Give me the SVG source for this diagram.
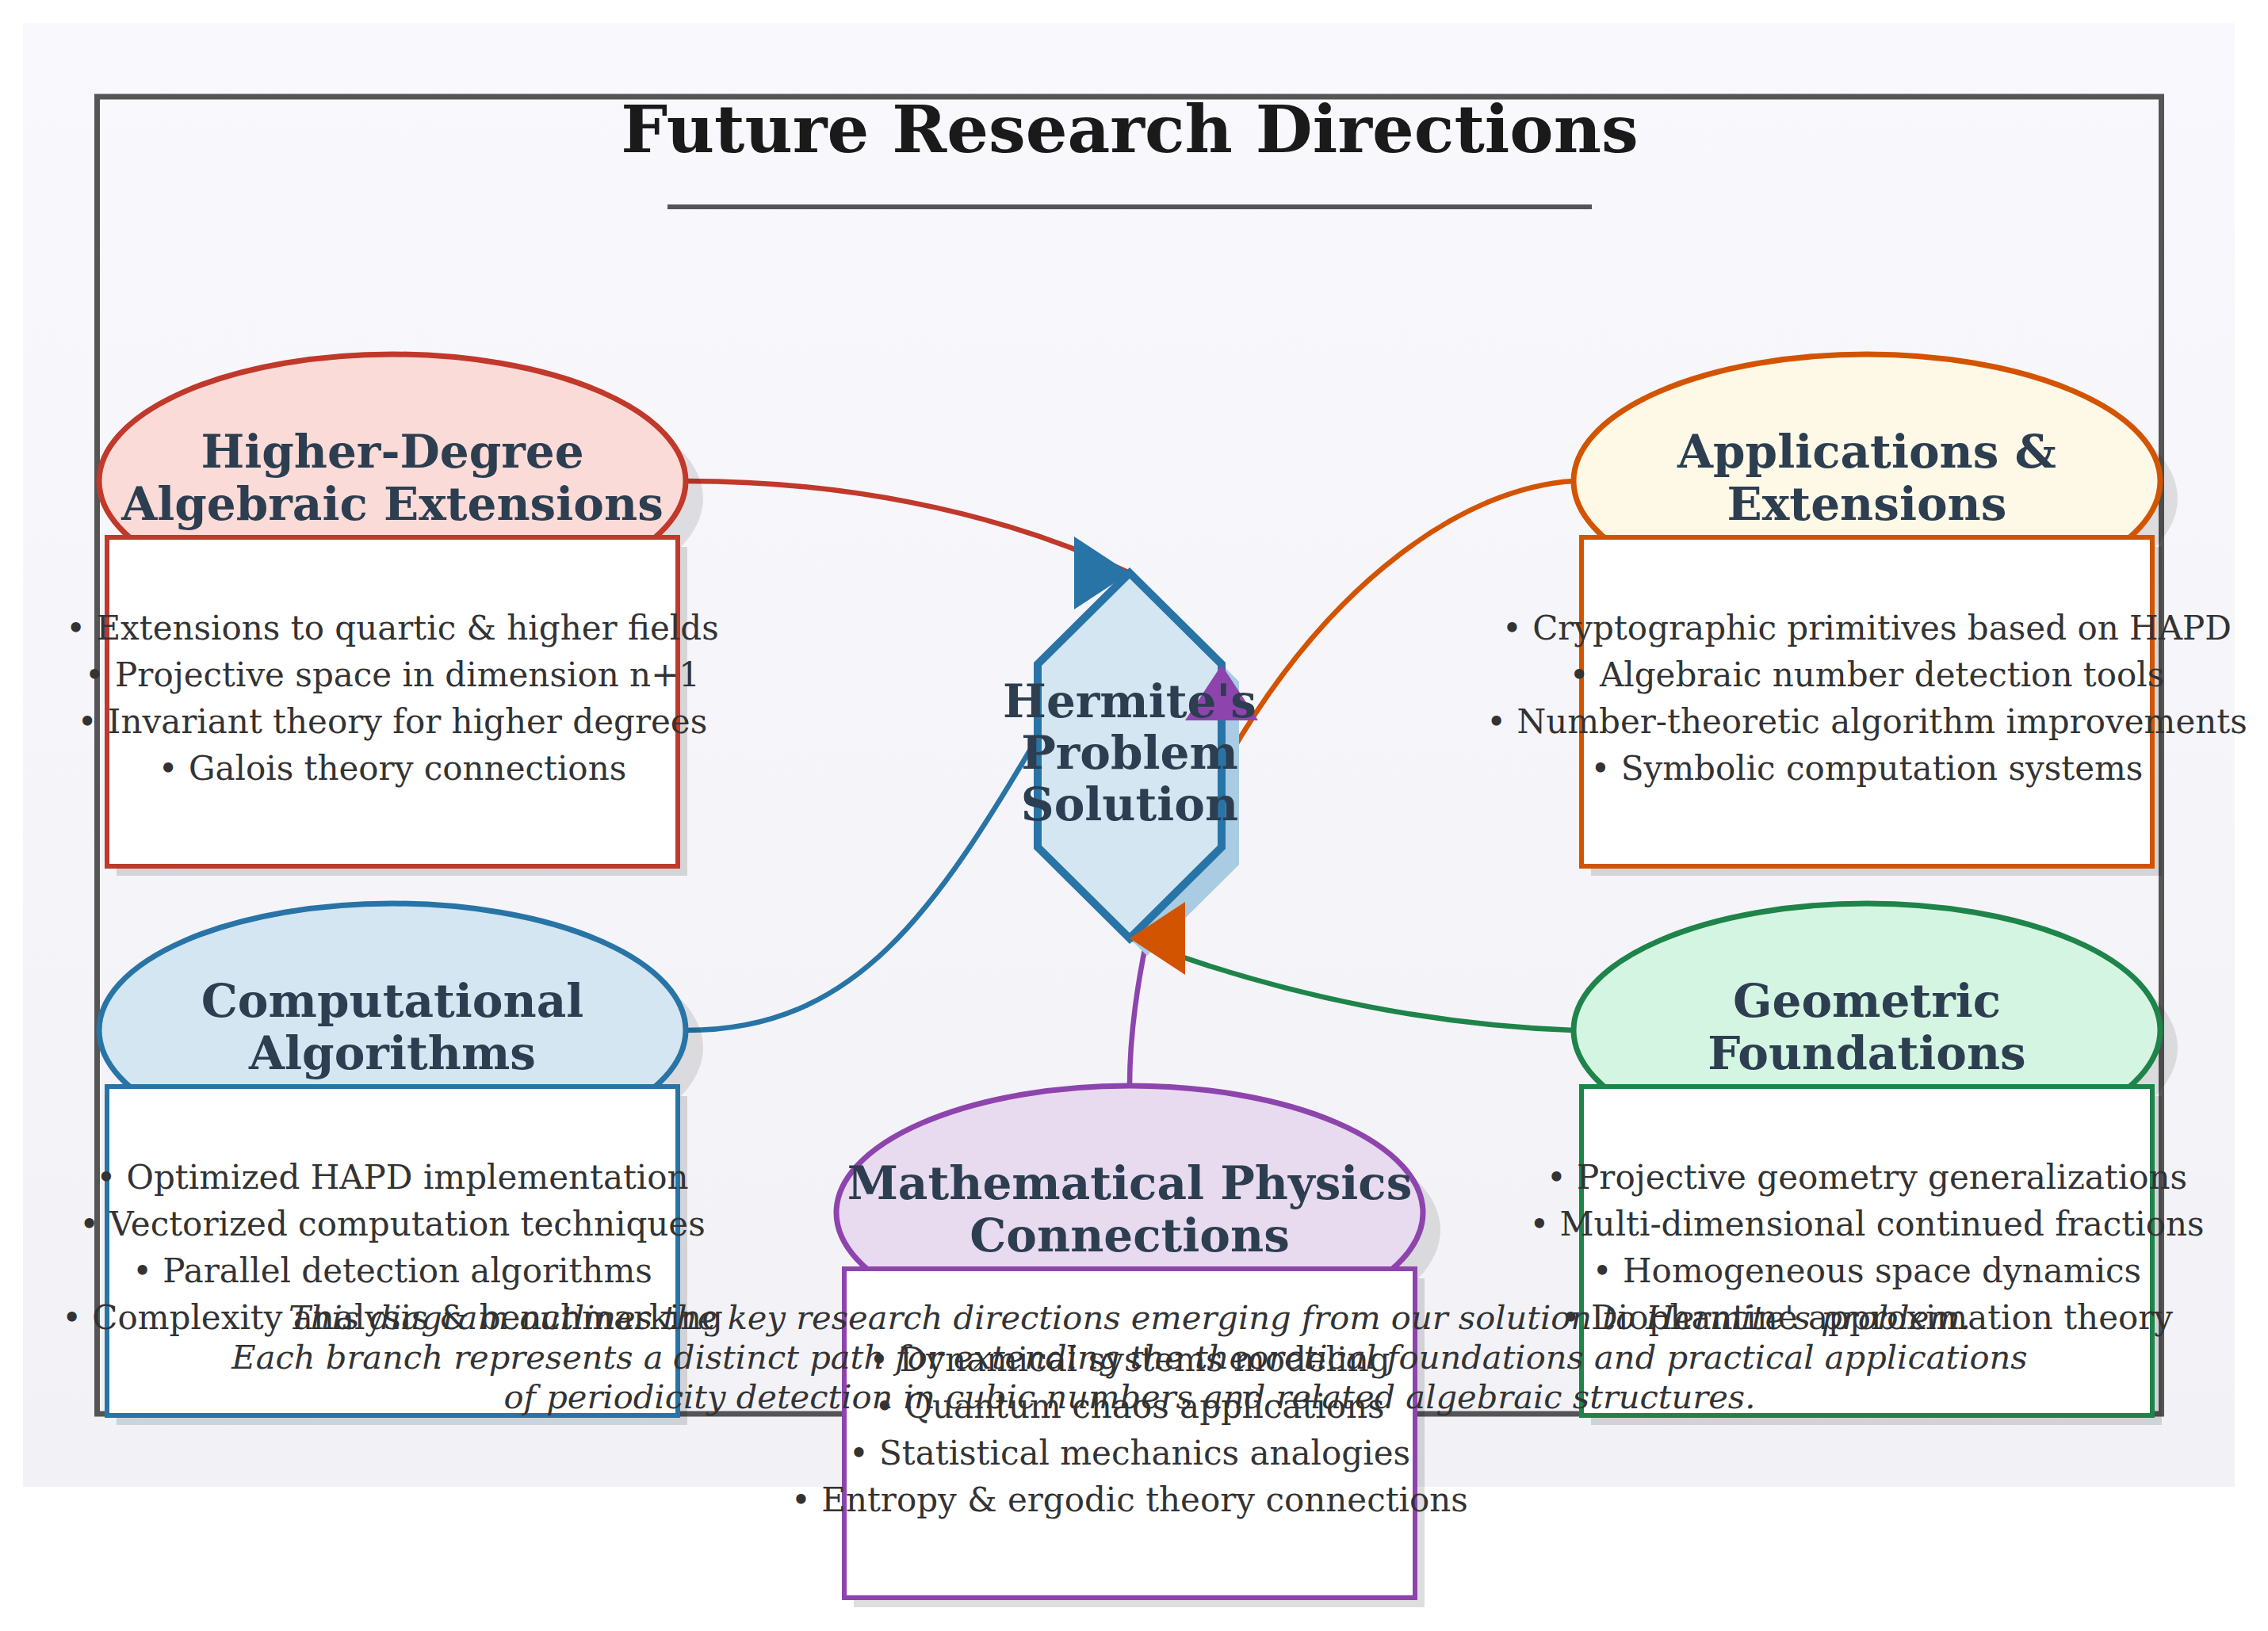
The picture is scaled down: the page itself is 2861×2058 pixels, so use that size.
<svg xmlns="http://www.w3.org/2000/svg" width="2861" height="2058" viewBox="0 0 2861 2058">
<defs>
<linearGradient id="bgGrad" x1="0" y1="0" x2="0" y2="1">
<stop offset="0" stop-color="#f8f8fd"/>
<stop offset="1" stop-color="#f2f2f6"/>
</linearGradient>
<path id="arrowhead" d="M0,0 L-70,-46 L-70,46 Z"/>
</defs>
<style>
.t{font-family:"DejaVu Serif","Liberation Serif",serif}
.title{font-size:83px;font-weight:bold;fill:#1a1a1a;text-anchor:middle}
.nt{font-size:58px;font-weight:bold;fill:#2c3e50;text-anchor:middle}
.bl{font-size:42px;fill:#333;text-anchor:middle}
.cap{font-size:41.6px;font-style:italic;fill:#333;text-anchor:middle}
.conn{fill:none;stroke-width:6.5}
.esh{fill:#000;opacity:.1}
.rsh{fill:#000;opacity:.13}
.ell{stroke-width:7}
.box{fill:#fff;stroke-width:6}
.red .ell{fill:#fadbd8;stroke:#c0392b}.red .box{stroke:#c0392b}
.org .ell{fill:#fef9e7;stroke:#d35400}.org .box{stroke:#d35400}
.blu .ell{fill:#d4e6f1;stroke:#2874a6}.blu .box{stroke:#2874a6}
.grn .ell{fill:#d5f5e3;stroke:#1e8449}.grn .box{stroke:#1e8449}
.pur .ell{fill:#e8daef;stroke:#8e44ad}.pur .box{stroke:#8e44ad}
</style>

<rect x="29" y="29" width="2790" height="1847" fill="url(#bgGrad)"/>

<g id="frame">
<rect x="122.5" y="122" width="2604" height="1662" fill="none" stroke="#555" stroke-width="7"/>
<text class="t title" x="1425" y="192">Future Research Directions</text>
<line x1="842" y1="261" x2="2008" y2="261" stroke="#555" stroke-width="6"/>
</g>

<g id="connectors">
<path class="conn" stroke="#c0392b" d="M866,607 C1050,607 1250,640 1425,723"/>
<path class="conn" stroke="#d35400" d="M1985,607 C1850,615 1680,730 1550,955"/>
<path class="conn" stroke="#2874a6" d="M866,1300 C1080,1300 1180,1150 1315,920"/>
<path class="conn" stroke="#1e8449" d="M1985,1300 Q1706,1290 1425,1184"/>
<path class="conn" stroke="#8e44ad" d="M1425,1370 Q1425,1290 1446,1188"/>
</g>

<g id="node-higher-degree" class="red" transform="translate(495,607)">
<ellipse class="esh" cx="22" cy="22" rx="370" ry="160"/>
<ellipse class="ell" cx="0" cy="0" rx="370" ry="160"/>
<rect class="rsh" x="-348" y="83" width="720" height="415"/>
<rect class="box" x="-360" y="71" width="720" height="415"/>
<text class="t nt" x="0" y="-17">Higher-Degree</text>
<text class="t nt" x="0" y="49">Algebraic Extensions</text>
<text class="t bl" x="0" y="200">• Extensions to quartic &amp; higher fields</text>
<text class="t bl" x="0" y="259">• Projective space in dimension n+1</text>
<text class="t bl" x="0" y="318">• Invariant theory for higher degrees</text>
<text class="t bl" x="0" y="377">• Galois theory connections</text>
</g>

<g id="node-applications" class="org" transform="translate(2355,607)">
<ellipse class="esh" cx="22" cy="22" rx="370" ry="160"/>
<ellipse class="ell" cx="0" cy="0" rx="370" ry="160"/>
<rect class="rsh" x="-348" y="83" width="720" height="415"/>
<rect class="box" x="-360" y="71" width="720" height="415"/>
<text class="t nt" x="0" y="-17">Applications &amp;</text>
<text class="t nt" x="0" y="49">Extensions</text>
<text class="t bl" x="0" y="200">• Cryptographic primitives based on HAPD</text>
<text class="t bl" x="0" y="259">• Algebraic number detection tools</text>
<text class="t bl" x="0" y="318">• Number-theoretic algorithm improvements</text>
<text class="t bl" x="0" y="377">• Symbolic computation systems</text>
</g>

<g id="node-computational" class="blu" transform="translate(495,1300)">
<ellipse class="esh" cx="22" cy="22" rx="370" ry="160"/>
<ellipse class="ell" cx="0" cy="0" rx="370" ry="160"/>
<rect class="rsh" x="-348" y="83" width="720" height="415"/>
<rect class="box" x="-360" y="71" width="720" height="415"/>
<text class="t nt" x="0" y="-17">Computational</text>
<text class="t nt" x="0" y="49">Algorithms</text>
<text class="t bl" x="0" y="200">• Optimized HAPD implementation</text>
<text class="t bl" x="0" y="259">• Vectorized computation techniques</text>
<text class="t bl" x="0" y="318">• Parallel detection algorithms</text>
<text class="t bl" x="0" y="377">• Complexity analysis &amp; benchmarking</text>
</g>

<g id="node-geometric" class="grn" transform="translate(2355,1300)">
<ellipse class="esh" cx="22" cy="22" rx="370" ry="160"/>
<ellipse class="ell" cx="0" cy="0" rx="370" ry="160"/>
<rect class="rsh" x="-348" y="83" width="720" height="415"/>
<rect class="box" x="-360" y="71" width="720" height="415"/>
<text class="t nt" x="0" y="-17">Geometric</text>
<text class="t nt" x="0" y="49">Foundations</text>
<text class="t bl" x="0" y="200">• Projective geometry generalizations</text>
<text class="t bl" x="0" y="259">• Multi-dimensional continued fractions</text>
<text class="t bl" x="0" y="318">• Homogeneous space dynamics</text>
<text class="t bl" x="0" y="377">• Diophantine approximation theory</text>
</g>

<g id="node-math-physics" class="pur" transform="translate(1425,1530)">
<ellipse class="esh" cx="22" cy="22" rx="370" ry="160"/>
<ellipse class="ell" cx="0" cy="0" rx="370" ry="160"/>
<rect class="rsh" x="-348" y="83" width="720" height="415"/>
<rect class="box" x="-360" y="71" width="720" height="415"/>
<text class="t nt" x="0" y="-17">Mathematical Physics</text>
<text class="t nt" x="0" y="49">Connections</text>
<text class="t bl" x="0" y="200">• Dynamical systems modeling</text>
<text class="t bl" x="0" y="259">• Quantum chaos applications</text>
<text class="t bl" x="0" y="318">• Statistical mechanics analogies</text>
<text class="t bl" x="0" y="377">• Entropy &amp; ergodic theory connections</text>
</g>

<g id="node-hermite">
<polygon points="1425,723 1541,838 1541,1069 1425,1184 1309,1069 1309,838" transform="translate(22,22)" fill="#a9cce3"/>
<polygon points="1425,723 1541,838 1541,1069 1425,1184 1309,1069 1309,838" fill="#d4e6f1" stroke="#2874a6" stroke-width="10"/>
</g>

<g id="connector-arrowheads">
<use href="#arrowhead" transform="translate(1425,723)" fill="#2874a6"/>
<use href="#arrowhead" transform="translate(1541,839) rotate(-90)" fill="#8e44ad"/>
<use href="#arrowhead" transform="translate(1425,1184) rotate(180)" fill="#d35400"/>
</g>

<g id="node-hermite-label">
<text class="t nt" x="1425" y="905">Hermite's</text>
<text class="t nt" x="1425" y="970">Problem</text>
<text class="t nt" x="1425" y="1035">Solution</text>
</g>

<g id="caption">
<text class="t cap" x="1425" y="1677">This diagram outlines the key research directions emerging from our solution to Hermite's problem.</text>
<text class="t cap" x="1425" y="1727">Each branch represents a distinct path for extending the theoretical foundations and practical applications</text>
<text class="t cap" x="1425" y="1777">of periodicity detection in cubic numbers and related algebraic structures.</text>
</g>
</svg>
